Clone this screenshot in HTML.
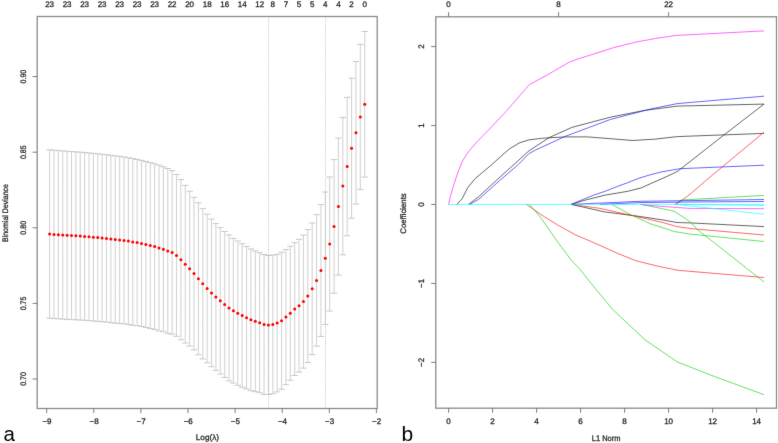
<!DOCTYPE html>
<html><head><meta charset="utf-8"><style>
html,body{margin:0;padding:0;background:#fff;width:778px;height:443px;overflow:hidden;}
svg{display:block;} .t text{text-rendering:geometricPrecision;stroke:#2a2a2a;stroke-width:0.3px;}
</style></head><body>
<svg width="778" height="443" viewBox="0 0 778 443" font-family='"Liberation Sans", sans-serif'>
<defs><filter id="bl" x="0" y="0" width="778" height="443" filterUnits="userSpaceOnUse" primitiveUnits="userSpaceOnUse" color-interpolation-filters="sRGB"><feConvolveMatrix order="3" kernelMatrix="0.00524 0.06192 0.00524 0.06192 0.73137 0.06192 0.00524 0.06192 0.00524" divisor="1" edgeMode="duplicate"/></filter></defs>
<rect width="778" height="443" fill="#fff"/>
<g filter="url(#bl)">
<path d="M49.60 149.80V318.20M53.98 150.24V318.56M58.35 150.58V318.82M62.73 150.91V319.09M67.11 151.25V319.35M71.48 151.59V319.61M75.86 151.82V319.77M80.23 152.16V320.04M84.61 152.50V320.30M88.99 152.94V320.66M93.36 153.38V321.02M97.74 153.81V321.39M102.12 154.25V321.75M106.49 154.69V322.11M110.87 155.32V322.67M115.25 155.86V323.14M119.62 156.30V323.50M124.00 157.00V323.80M128.38 157.70V324.50M132.75 158.50V325.30M137.13 159.50V325.70M141.50 160.40V326.40M145.88 161.50V327.50M150.26 162.60V328.40M154.63 163.80V329.40M159.01 165.10V330.90M163.39 166.80V331.80M167.76 168.50V333.30M172.14 170.60V334.20M176.52 174.50V336.30M180.89 179.60V339.80M185.27 185.40V343.00M189.64 191.30V346.10M194.02 197.30V349.90M198.40 202.80V354.80M202.77 208.70V358.90M207.15 214.20V362.80M211.53 219.10V366.70M215.90 223.60V370.40M220.28 227.60V374.00M224.66 231.50V377.50M229.03 234.90V380.90M233.41 238.40V383.00M237.78 241.00V385.40M242.16 243.70V387.30M246.54 246.50V388.90M250.91 248.90V390.70M255.29 250.80V391.60M259.67 252.70V392.70M264.04 254.60V394.40M268.42 255.50V394.50M272.80 255.10V393.70M277.17 254.30V391.90M281.55 252.20V389.20M285.92 249.50V384.70M290.30 246.20V380.20M294.68 242.70V375.50M299.05 239.30V372.10M303.43 235.10V368.10M307.81 229.60V362.60M312.18 223.00V354.60M316.56 214.60V346.20M320.94 204.60V336.40M325.31 192.00V324.60M329.69 176.90V311.10M334.07 159.60V293.20M338.44 138.10V275.10M342.82 117.40V254.80M347.19 97.40V235.80M351.57 78.20V218.20M355.95 61.50V204.10M360.32 44.40V189.40M364.70 31.50V177.10" stroke="#d4d4d4" stroke-width="1.1" fill="none"/>
<path d="M46.45 149.80H52.75M46.45 318.20H52.75M50.83 150.24H57.13M50.83 318.56H57.13M55.20 150.58H61.50M55.20 318.82H61.50M59.58 150.91H65.88M59.58 319.09H65.88M63.96 151.25H70.26M63.96 319.35H70.26M68.33 151.59H74.63M68.33 319.61H74.63M72.71 151.82H79.01M72.71 319.77H79.01M77.08 152.16H83.38M77.08 320.04H83.38M81.46 152.50H87.76M81.46 320.30H87.76M85.84 152.94H92.14M85.84 320.66H92.14M90.21 153.38H96.51M90.21 321.02H96.51M94.59 153.81H100.89M94.59 321.39H100.89M98.97 154.25H105.27M98.97 321.75H105.27M103.34 154.69H109.64M103.34 322.11H109.64M107.72 155.32H114.02M107.72 322.67H114.02M112.10 155.86H118.40M112.10 323.14H118.40M116.47 156.30H122.77M116.47 323.50H122.77M120.85 157.00H127.15M120.85 323.80H127.15M125.22 157.70H131.53M125.22 324.50H131.53M129.60 158.50H135.90M129.60 325.30H135.90M133.98 159.50H140.28M133.98 325.70H140.28M138.35 160.40H144.65M138.35 326.40H144.65M142.73 161.50H149.03M142.73 327.50H149.03M147.11 162.60H153.41M147.11 328.40H153.41M151.48 163.80H157.78M151.48 329.40H157.78M155.86 165.10H162.16M155.86 330.90H162.16M160.24 166.80H166.54M160.24 331.80H166.54M164.61 168.50H170.91M164.61 333.30H170.91M168.99 170.60H175.29M168.99 334.20H175.29M173.37 174.50H179.67M173.37 336.30H179.67M177.74 179.60H184.04M177.74 339.80H184.04M182.12 185.40H188.42M182.12 343.00H188.42M186.49 191.30H192.79M186.49 346.10H192.79M190.87 197.30H197.17M190.87 349.90H197.17M195.25 202.80H201.55M195.25 354.80H201.55M199.62 208.70H205.92M199.62 358.90H205.92M204.00 214.20H210.30M204.00 362.80H210.30M208.38 219.10H214.68M208.38 366.70H214.68M212.75 223.60H219.05M212.75 370.40H219.05M217.13 227.60H223.43M217.13 374.00H223.43M221.51 231.50H227.81M221.51 377.50H227.81M225.88 234.90H232.18M225.88 380.90H232.18M230.26 238.40H236.56M230.26 383.00H236.56M234.63 241.00H240.93M234.63 385.40H240.93M239.01 243.70H245.31M239.01 387.30H245.31M243.39 246.50H249.69M243.39 388.90H249.69M247.76 248.90H254.06M247.76 390.70H254.06M252.14 250.80H258.44M252.14 391.60H258.44M256.52 252.70H262.82M256.52 392.70H262.82M260.89 254.60H267.19M260.89 394.40H267.19M265.27 255.50H271.57M265.27 394.50H271.57M269.65 255.10H275.95M269.65 393.70H275.95M274.02 254.30H280.32M274.02 391.90H280.32M278.40 252.20H284.70M278.40 389.20H284.70M282.77 249.50H289.07M282.77 384.70H289.07M287.15 246.20H293.45M287.15 380.20H293.45M291.53 242.70H297.83M291.53 375.50H297.83M295.90 239.30H302.20M295.90 372.10H302.20M300.28 235.10H306.58M300.28 368.10H306.58M304.66 229.60H310.96M304.66 362.60H310.96M309.03 223.00H315.33M309.03 354.60H315.33M313.41 214.60H319.71M313.41 346.20H319.71M317.79 204.60H324.09M317.79 336.40H324.09M322.16 192.00H328.46M322.16 324.60H328.46M326.54 176.90H332.84M326.54 311.10H332.84M330.92 159.60H337.22M330.92 293.20H337.22M335.29 138.10H341.59M335.29 275.10H341.59M339.67 117.40H345.97M339.67 254.80H345.97M344.04 97.40H350.34M344.04 235.80H350.34M348.42 78.20H354.72M348.42 218.20H354.72M352.80 61.50H359.10M352.80 204.10H359.10M357.17 44.40H363.47M357.17 189.40H363.47M361.55 31.50H367.85M361.55 177.10H367.85" stroke="#c8c8c8" stroke-width="1.0" fill="none"/>
<line x1="268.6" y1="16.5" x2="268.6" y2="408.5" stroke="#bbb" stroke-width="0.8" stroke-dasharray="1.2 1.2"/>
<line x1="325.6" y1="16.5" x2="325.6" y2="408.5" stroke="#bbb" stroke-width="0.8" stroke-dasharray="1.2 1.2"/>
<g fill="#ff0000"><circle cx="49.60" cy="234.00" r="1.5"/><circle cx="53.98" cy="234.40" r="1.5"/><circle cx="58.35" cy="234.70" r="1.5"/><circle cx="62.73" cy="235.00" r="1.5"/><circle cx="67.11" cy="235.30" r="1.5"/><circle cx="71.48" cy="235.60" r="1.5"/><circle cx="75.86" cy="235.80" r="1.5"/><circle cx="80.23" cy="236.10" r="1.5"/><circle cx="84.61" cy="236.40" r="1.5"/><circle cx="88.99" cy="236.80" r="1.5"/><circle cx="93.36" cy="237.20" r="1.5"/><circle cx="97.74" cy="237.60" r="1.5"/><circle cx="102.12" cy="238.00" r="1.5"/><circle cx="106.49" cy="238.40" r="1.5"/><circle cx="110.87" cy="239.00" r="1.5"/><circle cx="115.25" cy="239.50" r="1.5"/><circle cx="119.62" cy="239.90" r="1.5"/><circle cx="124.00" cy="240.40" r="1.5"/><circle cx="128.38" cy="241.10" r="1.5"/><circle cx="132.75" cy="241.90" r="1.5"/><circle cx="137.13" cy="242.60" r="1.5"/><circle cx="141.50" cy="243.40" r="1.5"/><circle cx="145.88" cy="244.50" r="1.5"/><circle cx="150.26" cy="245.50" r="1.5"/><circle cx="154.63" cy="246.60" r="1.5"/><circle cx="159.01" cy="248.00" r="1.5"/><circle cx="163.39" cy="249.30" r="1.5"/><circle cx="167.76" cy="250.90" r="1.5"/><circle cx="172.14" cy="252.40" r="1.5"/><circle cx="176.52" cy="255.40" r="1.5"/><circle cx="180.89" cy="259.70" r="1.5"/><circle cx="185.27" cy="264.20" r="1.5"/><circle cx="189.64" cy="268.70" r="1.5"/><circle cx="194.02" cy="273.60" r="1.5"/><circle cx="198.40" cy="278.80" r="1.5"/><circle cx="202.77" cy="283.80" r="1.5"/><circle cx="207.15" cy="288.50" r="1.5"/><circle cx="211.53" cy="292.90" r="1.5"/><circle cx="215.90" cy="297.00" r="1.5"/><circle cx="220.28" cy="300.80" r="1.5"/><circle cx="224.66" cy="304.50" r="1.5"/><circle cx="229.03" cy="307.90" r="1.5"/><circle cx="233.41" cy="310.70" r="1.5"/><circle cx="237.78" cy="313.20" r="1.5"/><circle cx="242.16" cy="315.50" r="1.5"/><circle cx="246.54" cy="317.70" r="1.5"/><circle cx="250.91" cy="319.80" r="1.5"/><circle cx="255.29" cy="321.20" r="1.5"/><circle cx="259.67" cy="322.70" r="1.5"/><circle cx="264.04" cy="324.50" r="1.5"/><circle cx="268.42" cy="325.00" r="1.5"/><circle cx="272.80" cy="324.40" r="1.5"/><circle cx="277.17" cy="323.10" r="1.5"/><circle cx="281.55" cy="320.70" r="1.5"/><circle cx="285.92" cy="317.10" r="1.5"/><circle cx="290.30" cy="313.20" r="1.5"/><circle cx="294.68" cy="309.10" r="1.5"/><circle cx="299.05" cy="305.70" r="1.5"/><circle cx="303.43" cy="301.60" r="1.5"/><circle cx="307.81" cy="296.10" r="1.5"/><circle cx="312.18" cy="288.80" r="1.5"/><circle cx="316.56" cy="280.40" r="1.5"/><circle cx="320.94" cy="270.50" r="1.5"/><circle cx="325.31" cy="258.30" r="1.5"/><circle cx="329.69" cy="244.00" r="1.5"/><circle cx="334.07" cy="226.40" r="1.5"/><circle cx="338.44" cy="206.60" r="1.5"/><circle cx="342.82" cy="186.10" r="1.5"/><circle cx="347.19" cy="166.60" r="1.5"/><circle cx="351.57" cy="148.20" r="1.5"/><circle cx="355.95" cy="132.80" r="1.5"/><circle cx="360.32" cy="116.90" r="1.5"/><circle cx="364.70" cy="104.30" r="1.5"/></g>
<rect x="37.2" y="16.5" width="340.0" height="392.0" fill="none" stroke="#8c8c8c" stroke-width="1.3"/>
<path d="M448.5 204.4 L450.7 195.2 L454.2 183.4 L457.8 172.7 L462.5 160.9 L469.6 150.2 L477.9 140.8 L489.7 128.9 L506.3 111.2 L512.0 104.5 L529.4 84.6 L546.8 75.2 L569.2 62.2 L579.1 58.5 L590.0 55.2 L613.1 47.8 L636.3 42.0 L659.4 37.8 L675.6 35.5 L705.7 33.9 L728.8 32.7 L764.0 30.9" stroke="#ff00ff" stroke-width="1.0" fill="none" opacity="0.6"/>
<path d="M456.8 204.4 L462.2 198.6 L467.6 187.8 L474.9 178.8 L491.1 165.2 L509.2 149.0 L520.0 142.6 L529.0 139.9 L542.6 138.2 L565.1 136.9 L587.7 136.9 L610.3 138.7 L632.8 140.5 L655.4 139.1 L677.2 136.6 L764.0 133.4" stroke="#000000" stroke-width="1.0" fill="none" opacity="0.6"/>
<path d="M468.5 204.4 L478.5 196.8 L500.1 177.0 L518.2 160.7 L529.0 150.8 L549.3 137.5 L571.9 127.4 L610.3 117.2 L644.1 110.5 L677.2 106.1 L764.0 104.1" stroke="#000000" stroke-width="1.0" fill="none" opacity="0.6"/>
<path d="M469.8 204.4 L478.5 199.4 L500.1 180.2 L518.2 164.6 L529.0 153.6 L535.0 150.3 L565.1 136.4 L610.3 119.5 L650.9 108.9 L677.2 103.6 L764.0 96.2" stroke="#0000ff" stroke-width="1.0" fill="none" opacity="0.6"/>
<path d="M571.2 204.4 L582.6 200.8 L605.1 195.1 L627.7 191.3 L641.2 187.9 L650.2 183.8 L661.5 178.9 L672.8 173.7 L678.0 171.0 L724.3 134.7 L764.0 104.1" stroke="#000000" stroke-width="1.0" fill="none" opacity="0.6"/>
<path d="M571.2 204.4 L582.6 199.6 L593.8 195.1 L605.1 191.3 L616.4 186.8 L627.7 182.7 L639.0 178.2 L650.2 174.8 L661.5 171.9 L672.8 169.9 L680.0 168.7 L764.0 165.2" stroke="#0000ff" stroke-width="1.0" fill="none" opacity="0.6"/>
<path d="M571.2 204.4 L605.1 212.0 L637.2 216.1 L662.1 219.8 L677.0 222.5 L690.0 222.9 L764.0 226.6" stroke="#000000" stroke-width="1.0" fill="none" opacity="0.6"/>
<path d="M571.2 204.4 L593.8 207.5 L600.0 208.4 L637.2 216.7 L662.1 222.3 L677.0 226.6 L690.0 228.5 L764.0 235.0" stroke="#ff0000" stroke-width="1.0" fill="none" opacity="0.6"/>
<path d="M611.8 204.4 L631.0 214.8 L649.7 223.5 L674.5 231.6 L690.0 234.1 L764.0 241.5" stroke="#00cd00" stroke-width="1.0" fill="none" opacity="0.6"/>
<path d="M526.4 204.4 L540.6 214.4 L556.9 224.5 L575.1 234.7 L585.5 239.1 L600.0 245.4 L618.1 253.6 L636.1 260.8 L660.0 266.7 L678.9 270.4 L720.4 273.9 L764.0 277.5" stroke="#ff0000" stroke-width="1.0" fill="none" opacity="0.6"/>
<path d="M529.4 204.4 L540.6 217.4 L556.9 240.8 L571.1 260.0 L580.0 269.4 L588.3 280.0 L612.5 309.3 L645.0 339.8 L677.6 362.1 L714.2 376.4 L764.0 394.7" stroke="#00cd00" stroke-width="1.0" fill="none" opacity="0.6"/>
<path d="M641.0 204.4 L662.0 208.6 L674.5 211.4 L690.0 221.7 L697.9 230.0 L723.4 250.0 L764.0 282.0" stroke="#00cd00" stroke-width="1.0" fill="none" opacity="0.6"/>
<path d="M674.5 204.4 L680.7 201.2 L690.0 194.3 L706.5 180.0 L764.0 132.2" stroke="#ff0000" stroke-width="1.0" fill="none" opacity="0.6"/>
<path d="M676.0 204.4 L681.0 200.0 L764.0 195.4" stroke="#00cd00" stroke-width="1.0" fill="none" opacity="0.6"/>
<path d="M571.2 204.4 L640.0 201.3 L690.0 200.6 L764.0 199.5" stroke="#0000ff" stroke-width="1.0" fill="none" opacity="0.6"/>
<path d="M600.0 204.4 L640.0 202.6 L690.0 202.0 L764.0 201.5" stroke="#0000ff" stroke-width="1.0" fill="none" opacity="0.6"/>
<path d="M640.0 204.4 L649.7 205.5 L690.0 208.4 L764.0 208.7" stroke="#ff00ff" stroke-width="1.0" fill="none" opacity="0.6"/>
<path d="M676.0 204.4 L764.0 214.2" stroke="#00ffff" stroke-width="1.0" fill="none" opacity="0.6"/>
<path d="M680.0 204.4 L764.0 205.5" stroke="#00ffff" stroke-width="1.0" fill="none" opacity="0.6"/>
<path d="M448.5 204.4 L764.0 204.4" stroke="#00ffff" stroke-width="1.0" fill="none" opacity="0.6"/>
<rect x="435.8" y="16.8" width="340.7" height="391.4" fill="none" stroke="#8c8c8c" stroke-width="1.3"/>
<path d="M46.70 408.5V413.1M93.80 408.5V413.1M140.90 408.5V413.1M188.00 408.5V413.1M235.10 408.5V413.1M282.20 408.5V413.1M329.30 408.5V413.1M376.40 408.5V413.1M37.2 379.00H32.6M37.2 303.40H32.6M37.2 227.80H32.6M37.2 152.20H32.6M37.2 76.60H32.6M448.60 408.2V412.8M492.60 408.2V412.8M536.60 408.2V412.8M580.60 408.2V412.8M624.60 408.2V412.8M668.60 408.2V412.8M712.60 408.2V412.8M756.60 408.2V412.8M435.8 362.40H431.2M435.8 283.45H431.2M435.8 204.50H431.2M435.8 125.55H431.2M435.8 46.60H431.2M448.60 16.8V12.200000000000001M558.60 16.8V12.200000000000001M668.60 16.8V12.200000000000001" stroke="#707070" stroke-width="0.9" fill="none"/>
<g font-size="8" fill="#2a2a2a" class="t"><text x="46.95" y="424" text-anchor="middle">−9</text><text x="94.05" y="424" text-anchor="middle">−8</text><text x="141.15" y="424" text-anchor="middle">−7</text><text x="188.25" y="424" text-anchor="middle">−6</text><text x="235.35" y="424" text-anchor="middle">−5</text><text x="282.45" y="424" text-anchor="middle">−4</text><text x="329.55" y="424" text-anchor="middle">−3</text><text x="376.65" y="424" text-anchor="middle">−2</text><text transform="translate(25.5 379.00) rotate(-90) scale(0.88 1)" text-anchor="middle">0.70</text><text transform="translate(25.5 303.40) rotate(-90) scale(0.88 1)" text-anchor="middle">0.75</text><text transform="translate(25.5 227.80) rotate(-90) scale(0.88 1)" text-anchor="middle">0.80</text><text transform="translate(25.5 152.20) rotate(-90) scale(0.88 1)" text-anchor="middle">0.85</text><text transform="translate(25.5 76.60) rotate(-90) scale(0.88 1)" text-anchor="middle">0.90</text><text x="364.70" y="7" text-anchor="middle">0</text><text x="351.57" y="7" text-anchor="middle">2</text><text x="338.44" y="7" text-anchor="middle">4</text><text x="325.31" y="7" text-anchor="middle">4</text><text x="312.18" y="7" text-anchor="middle">5</text><text x="299.05" y="7" text-anchor="middle">5</text><text x="285.92" y="7" text-anchor="middle">7</text><text x="272.80" y="7" text-anchor="middle">8</text><text x="259.67" y="7" text-anchor="middle">12</text><text x="242.16" y="7" text-anchor="middle">14</text><text x="224.66" y="7" text-anchor="middle">16</text><text x="207.15" y="7" text-anchor="middle">18</text><text x="189.64" y="7" text-anchor="middle">20</text><text x="172.14" y="7" text-anchor="middle">22</text><text x="154.63" y="7" text-anchor="middle">23</text><text x="137.13" y="7" text-anchor="middle">23</text><text x="119.62" y="7" text-anchor="middle">23</text><text x="102.12" y="7" text-anchor="middle">23</text><text x="84.61" y="7" text-anchor="middle">23</text><text x="67.11" y="7" text-anchor="middle">23</text><text x="49.60" y="7" text-anchor="middle">23</text><text x="207.4" y="439.6" text-anchor="middle" textLength="23.2" lengthAdjust="spacingAndGlyphs">Log(λ)</text><text transform="translate(7.6 213) rotate(-90)" text-anchor="middle" textLength="58" lengthAdjust="spacingAndGlyphs">Binomial Deviance</text><text x="448.60" y="424" text-anchor="middle">0</text><text x="492.60" y="424" text-anchor="middle">2</text><text x="536.60" y="424" text-anchor="middle">4</text><text x="580.60" y="424" text-anchor="middle">6</text><text x="624.60" y="424" text-anchor="middle">8</text><text x="668.60" y="424" text-anchor="middle">10</text><text x="712.60" y="424" text-anchor="middle">12</text><text x="756.60" y="424" text-anchor="middle">14</text><text transform="translate(424.4 362.40) rotate(-90)" text-anchor="middle">−2</text><text transform="translate(424.4 283.45) rotate(-90)" text-anchor="middle">−1</text><text transform="translate(424.4 204.50) rotate(-90)" text-anchor="middle">0</text><text transform="translate(424.4 125.55) rotate(-90)" text-anchor="middle">1</text><text transform="translate(424.4 46.60) rotate(-90)" text-anchor="middle">2</text><text x="448.60" y="7" text-anchor="middle">0</text><text x="558.60" y="7" text-anchor="middle">8</text><text x="668.60" y="7" text-anchor="middle">22</text><text x="606.1" y="440.5" text-anchor="middle" textLength="28.6" lengthAdjust="spacingAndGlyphs">L1 Norm</text><text transform="translate(406.4 213.5) rotate(-90)" text-anchor="middle" textLength="40.3" lengthAdjust="spacingAndGlyphs">Coefficients</text></g>
<text x="3.6" y="440.5" font-size="20.5" fill="#000">a</text>
<text x="401.5" y="440.5" font-size="21" fill="#000">b</text>
</g>
</svg>
</body></html>
